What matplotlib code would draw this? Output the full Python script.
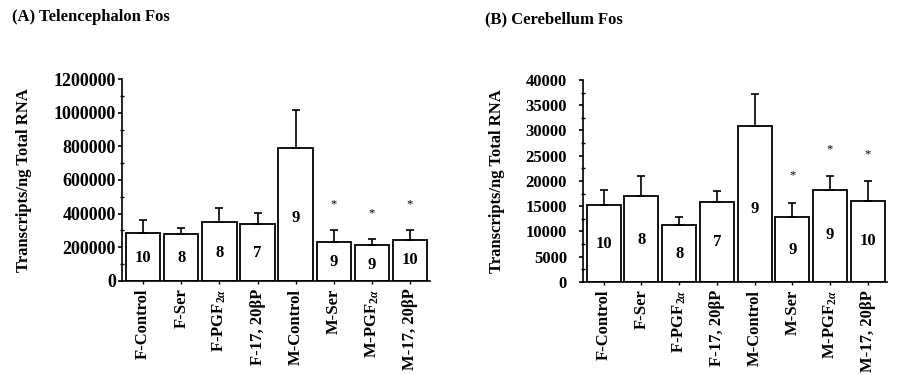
import numpy as np
import matplotlib
matplotlib.use('Agg')
import matplotlib.pyplot as plt
from matplotlib.ticker import MultipleLocator, FormatStrFormatter

plt.rcParams['font.family'] = ['Liberation Serif', 'DejaVu Serif']
plt.rcParams['font.weight'] = 'bold'
plt.rcParams['mathtext.fontset'] = 'custom'
plt.rcParams['mathtext.rm'] = 'Liberation Serif:bold'
plt.rcParams['mathtext.it'] = 'Liberation Serif:italic:bold'
plt.rcParams['mathtext.bf'] = 'Liberation Serif:bold'

groups = ['F-Control', 'F-Ser', r'F-PGF$_{2\alpha}$', 'F-17, 20βP',
          'M-Control', 'M-Ser', r'M-PGF$_{2\alpha}$', 'M-17, 20βP']

# (A) telencephalon
tel_mean = [283000, 277000, 352000, 340000, 788000, 234000, 214000, 245000]
tel_err = [77000, 38000, 82000, 62000, 228000, 69000, 33000, 58000]
tel_n = ['10', '8', '8', '7', '9', '9', '9', '10']
tel_n_y = [139000, 135000, 164000, 164000, 372000, 115000, 95000, 125000]
tel_star_y = [None, None, None, None, None, 455000, 402000, 455000]

# (B) cerebellum
cer_mean = [15200, 17000, 11200, 15900, 30900, 12800, 18200, 16100]
cer_err = [3100, 4000, 1700, 2100, 6400, 2900, 2800, 3900]
cer_n = ['10', '8', '8', '7', '9', '9', '9', '10']
cer_n_y = [7600, 8300, 5600, 7900, 14500, 6400, 9300, 8100]
cer_star_y = [None, None, None, None, None, 21100, 26200, 25200]


def panel(ax, mean, err, n, n_y, star_y, ymax, major, ytick_size, ypad):
    x = np.arange(len(mean))
    ax.bar(x, mean, width=0.9, color='white', edgecolor='black', linewidth=1.3)
    ax.errorbar(x, mean, yerr=[np.zeros(len(err)), err], fmt='none',
                ecolor='black', elinewidth=1.2, capsize=3, capthick=1.2)
    for i in range(len(mean)):
        ax.text(x[i], n_y[i], n[i], ha='center', va='center', fontsize=12,
                fontweight='bold')
        if star_y[i] is not None:
            ax.text(x[i], star_y[i], '*', ha='center', va='center',
                    fontsize=9, fontweight='normal')
    ax.set_xlim(-0.55, 7.52)
    ax.set_ylim(0, ymax)
    ax.yaxis.set_major_locator(MultipleLocator(major))
    ax.yaxis.set_minor_locator(MultipleLocator(major / 2))
    ax.yaxis.set_major_formatter(FormatStrFormatter('%d'))
    ax.tick_params(axis='y', which='major', direction='out', length=3,
                   labelsize=ytick_size, width=1.2, pad=ypad)
    ax.tick_params(axis='y', which='minor', direction='inout', length=3,
                   width=1)
    ax.tick_params(axis='x', direction='out', length=2, labelsize=12, width=1)
    ax.set_xticks(x)
    ax.set_xticklabels(groups, rotation=90)
    for lab in ax.get_yticklabels() + ax.get_xticklabels():
        lab.set_fontweight('bold')
    ax.spines['top'].set_visible(False)
    ax.spines['right'].set_visible(False)
    ax.spines['left'].set_linewidth(1.2)
    ax.spines['bottom'].set_linewidth(1.2)
    ax.set_ylabel('Transcripts/ng Total RNA', fontsize=12, fontweight='bold')


fig = plt.figure(figsize=(8.99, 3.75), dpi=100)
ax1 = fig.add_axes([0.136, 0.251, 0.342, 0.538])
ax2 = fig.add_axes([0.6485, 0.248, 0.3385, 0.539])

panel(ax1, tel_mean, tel_err, tel_n, tel_n_y, tel_star_y, 1200000, 200000,
      13, 1.5)
panel(ax2, cer_mean, cer_err, cer_n, cer_n_y, cer_star_y, 40000, 5000,
      12, 8.5)

ax1.yaxis.set_label_coords(-0.293, 0.5)
ax2.yaxis.set_label_coords(-0.257, 0.5)

fig.text(0.013, 0.955, '(A) Telencephalon Fos', fontsize=12,
         fontweight='bold', ha='left', va='center')
fig.text(0.539, 0.948, '(B) Cerebellum Fos', fontsize=12,
         fontweight='bold', ha='left', va='center')

fig.savefig('out.png', dpi=100)
